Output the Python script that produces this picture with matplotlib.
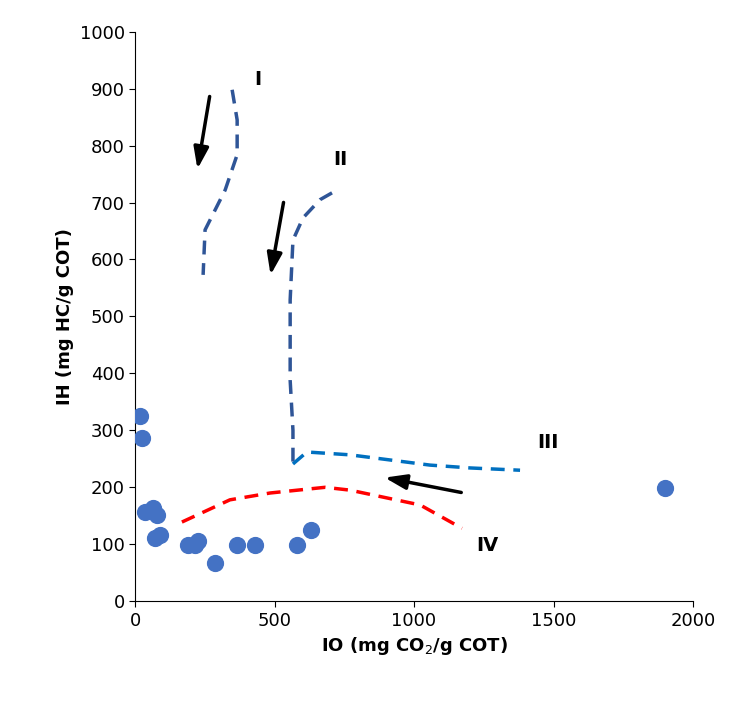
import matplotlib.pyplot as plt

# sample points
io_pts = [18, 25, 36, 65, 79, 72, 90, 190, 215, 226, 287, 366, 430, 581, 631, 1900]
ih_pts = [325, 286, 156, 163, 151, 111, 116, 98, 98, 105, 67, 98, 98, 98, 125, 199]

# trend curves
c1_x = [348, 366, 366, 323, 251, 244]
c1_y = [898, 845, 784, 722, 652, 573]
c2_x = [706, 663, 602, 566, 556, 556, 566, 566]
c2_y = [717, 705, 673, 634, 529, 388, 300, 241]
c3_x = [566, 616, 771, 1057, 1201, 1380]
c3_y = [241, 262, 257, 239, 234, 230]
c4_x = [168, 340, 484, 681, 771, 1022, 1172]
c4_y = [139, 178, 190, 200, 195, 169, 128]

arrows = [((269, 891), (222, 754)), ((534, 705), (484, 568)), ((1179, 190), (885, 218))]
labels = [("I", 441, 916), ("II", 735, 775), ("III", 1480, 279), ("IV", 1262, 98)]

fig = plt.figure(figsize=(7.42, 7.04), dpi=100)
ax = fig.add_axes([0.182, 0.146, 0.752, 0.809])

ax.plot(c1_x, c1_y, ls=(0, (4, 2.5)), color="#2F5597", lw=2.5)
ax.plot(c2_x, c2_y, ls=(0, (4, 2.5)), color="#2F5597", lw=2.5)
ax.plot(c3_x, c3_y, ls=(0, (4, 2.5)), color="#0070C0", lw=2.5)
ax.plot(c4_x, c4_y, ls=(0, (4, 2.5)), color="#FF0000", lw=2.5)
ax.scatter(io_pts, ih_pts, s=130, color="#4472C4", zorder=3)

for (x0, y0), (x1, y1) in arrows:
    ax.annotate("", xy=(x1, y1), xytext=(x0, y0),
                arrowprops=dict(arrowstyle="-|>,head_width=0.45,head_length=1.3", color="black", lw=2.5))
for t, x, y in labels:
    ax.text(x, y, t, fontsize=14, fontweight="bold", ha="center", va="center")

ax.set_xlim(0, 2000)
ax.set_ylim(0, 1000)
ax.set_xticks(range(0, 2001, 500))
ax.set_yticks(range(0, 1001, 100))
ax.tick_params(labelsize=13, length=4)
ax.spines["top"].set_visible(False)
ax.spines["right"].set_visible(False)
ax.set_xlabel("IO (mg CO$_2$/g COT)", fontsize=13, fontweight="bold")
ax.set_ylabel("IH (mg HC/g COT)", fontsize=13, fontweight="bold")

fig.savefig("out.png", dpi=100)
